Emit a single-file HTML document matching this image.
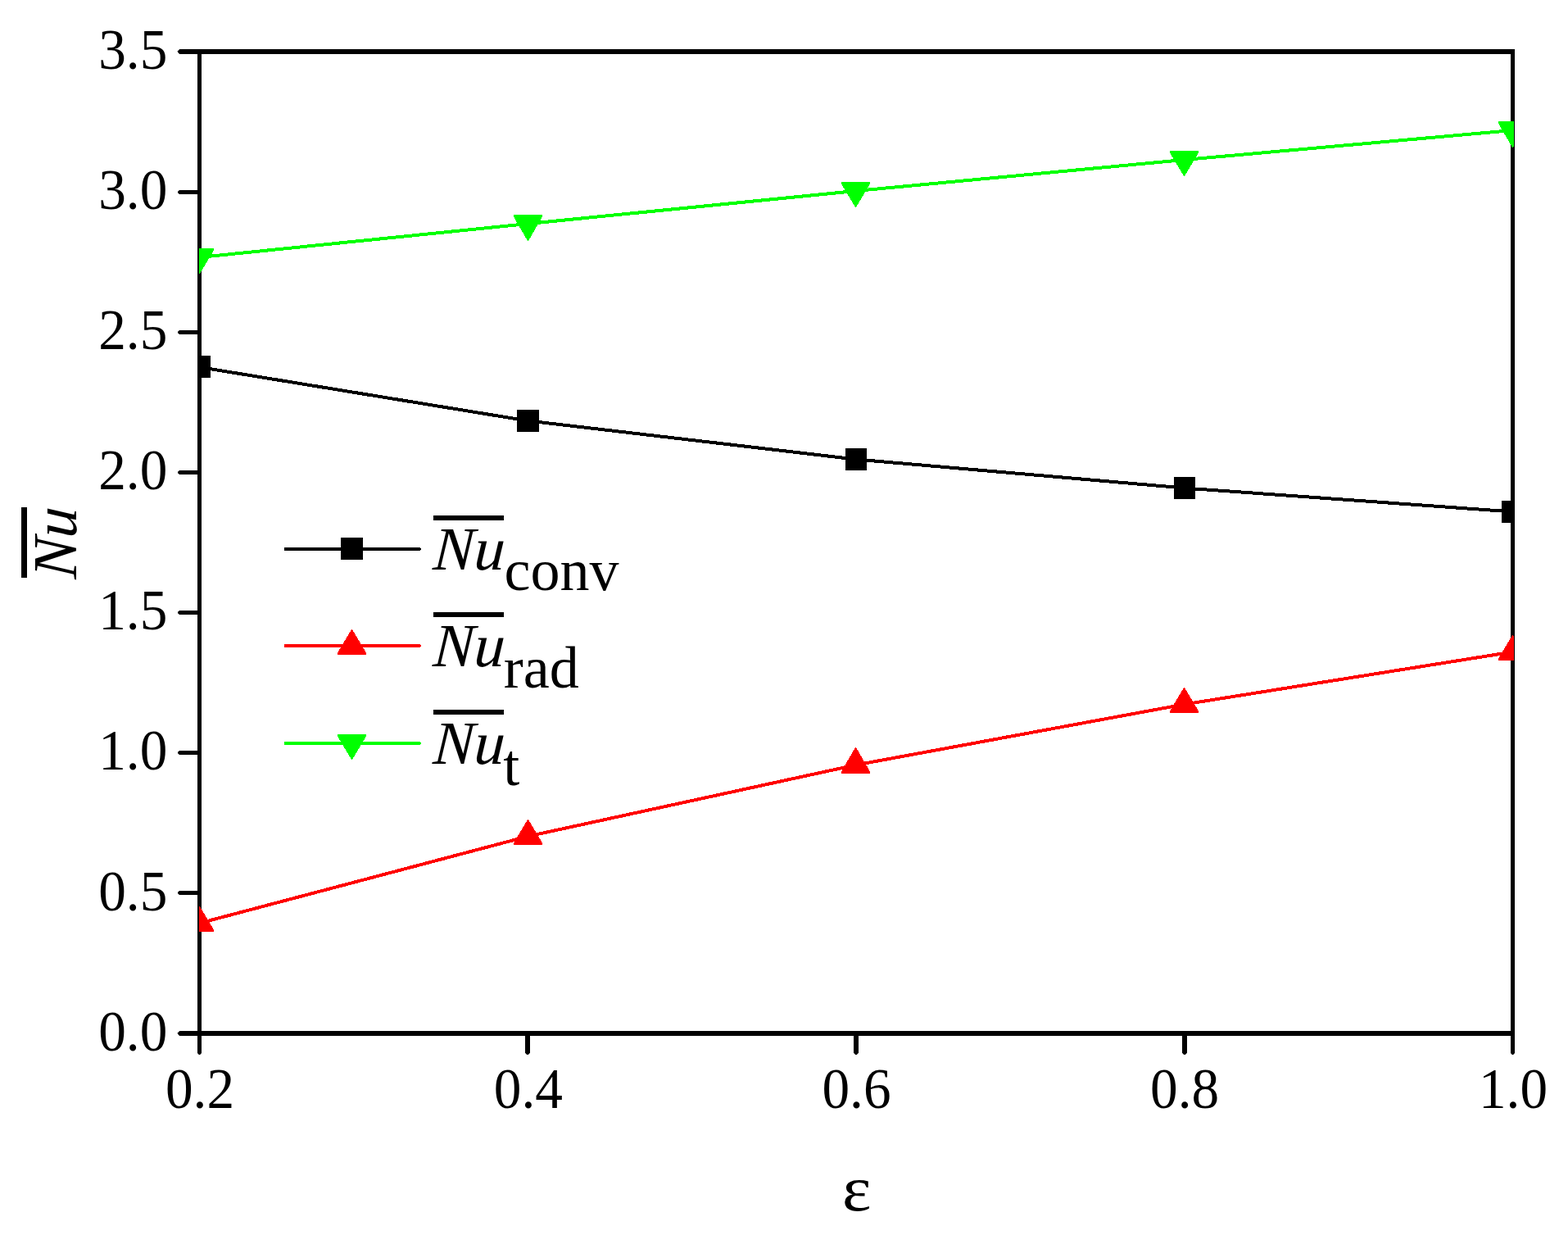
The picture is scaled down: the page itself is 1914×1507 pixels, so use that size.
<!DOCTYPE html>
<html lang="en"><head><meta charset="utf-8"><title>Average Nusselt number versus emissivity</title>
<style>
html,body{margin:0;padding:0;background:#fff;}
body{width:1914px;height:1507px;overflow:hidden;}
svg{display:block;}
text{font-family:"Liberation Serif","DejaVu Serif",serif;fill:#000;}
.tk{font-size:70.5px;}
.lb{font-size:75px;font-style:italic;}
.sb{font-size:72px;}
</style></head><body>
<svg width="1914" height="1507" viewBox="0 0 1914 1507">
<rect width="1914" height="1507" fill="#fff"/>
<defs><clipPath id="plot"><rect x="243" y="62" width="1605" height="1201"/></clipPath></defs>

<g fill="#000">
<path d="M219.2 60H1849V66H219.2L217 63.8V62.2Z"/>
<path d="M219.2 1258H1849V1264H219.2L217 1261.8V1260.2Z"/>
<path d="M241 60H246V1285L244.2 1287H242.8L241 1285Z"/>
<path d="M1844 60H1849V1285L1847.2 1287H1845.8L1844 1285Z"/>
<path d="M219 1087H241V1092H219L217 1090.2V1088.8Z"/>
<path d="M219 916H241V921H219L217 919.2V917.8Z"/>
<path d="M219 745H241V750H219L217 748.2V746.8Z"/>
<path d="M219 574H241V579H219L217 577.2V575.8Z"/>
<path d="M219 403H241V408H219L217 406.2V404.8Z"/>
<path d="M219 232H241V237H219L217 235.2V233.8Z"/>
<path d="M641 1264H647V1284.8L644.8 1287H643.2L641 1284.8Z"/>
<path d="M1042 1264H1048V1284.8L1045.8 1287H1044.2L1042 1284.8Z"/>
<path d="M1443 1264H1449V1284.8L1446.8 1287H1445.2L1443 1284.8Z"/>
</g>
<g clip-path="url(#plot)" shape-rendering="crispEdges">
<polyline points="243.5,448.0 644.5,513.5 1044.5,560.5 1445.5,595.5 1846.5,624.5" fill="none" stroke="#000" stroke-width="4"/>
<rect x="230" y="434" width="27" height="27" fill="#000"/>
<rect x="631" y="500" width="27" height="27" fill="#000"/>
<rect x="1032" y="547" width="26" height="27" fill="#000"/>
<rect x="1433" y="582" width="26" height="27" fill="#000"/>
<rect x="1833" y="611" width="27" height="27" fill="#000"/>
<polyline points="243.5,1126.5 644.5,1020.5 1044.5,933.5 1445.5,859.5 1846.5,795.5" fill="none" stroke="#f00" stroke-width="4"/>
<polygon points="226,1137 261,1137 261,1134.4 243.9,1106 243.1,1106 226,1134.4" fill="#f00"/>
<polygon points="627,1031 662,1031 662,1028.4 644.9,1000 644.1,1000 627,1028.4" fill="#f00"/>
<polygon points="1027,944 1062,944 1062,941.4 1044.9,912 1044.1,912 1027,941.4" fill="#f00"/>
<polygon points="1428,870 1463,870 1463,867.4 1445.9,839 1445.1,839 1428,867.4" fill="#f00"/>
<polygon points="1829,806 1864,806 1864,803.4 1846.9,775 1846.1,775 1829,803.4" fill="#f00"/>
<polyline points="243.5,314.0 644.5,273.0 1044.5,233.0 1445.5,195.0 1846.5,159.0" fill="none" stroke="#0f0" stroke-width="4"/>
<polygon points="226,303 261,303 261,305.6 243.9,334 243.1,334 226,305.6" fill="#0f0"/>
<polygon points="627,262 662,262 662,264.6 644.9,294 644.1,294 627,264.6" fill="#0f0"/>
<polygon points="1027,222 1062,222 1062,224.6 1044.9,253 1044.1,253 1027,224.6" fill="#0f0"/>
<polygon points="1428,184 1463,184 1463,186.6 1445.9,215 1445.1,215 1428,186.6" fill="#0f0"/>
<polygon points="1829,148 1864,148 1864,150.6 1846.9,180 1846.1,180 1829,150.6" fill="#0f0"/>
</g>
<g class="tk">
<text transform="translate(204.3,1281.6) scale(0.955,1)" text-anchor="end">0.0</text>
<text transform="translate(204.3,1110.5) scale(0.955,1)" text-anchor="end">0.5</text>
<text transform="translate(204.3,939.3) scale(0.955,1)" text-anchor="end">1.0</text>
<text transform="translate(204.3,768.2) scale(0.955,1)" text-anchor="end">1.5</text>
<text transform="translate(204.3,597.0) scale(0.955,1)" text-anchor="end">2.0</text>
<text transform="translate(204.3,425.9) scale(0.955,1)" text-anchor="end">2.5</text>
<text transform="translate(204.3,254.7) scale(0.955,1)" text-anchor="end">3.0</text>
<text transform="translate(204.3,83.6) scale(0.955,1)" text-anchor="end">3.5</text>
<text transform="translate(244.0,1352.4) scale(0.955,1)" text-anchor="middle">0.2</text>
<text transform="translate(644.8,1352.4) scale(0.955,1)" text-anchor="middle">0.4</text>
<text transform="translate(1045.5,1352.4) scale(0.955,1)" text-anchor="middle">0.6</text>
<text transform="translate(1446.2,1352.4) scale(0.955,1)" text-anchor="middle">0.8</text>
<text transform="translate(1847.0,1352.4) scale(0.955,1)" text-anchor="middle">1.0</text>
</g>
<text transform="translate(1045.8,1476.6) scale(1.085,1)" text-anchor="middle" style="font-size:77.7px">ε</text>
<g transform="translate(92.5,707) rotate(-90)"><text class="lb" style="font-size:76.5px" transform="scale(0.975,1) skewX(-3.5)">Nu</text><rect x="2" y="-66.5" width="86" height="7"/></g>
<g shape-rendering="crispEdges">
<path d="M347.6 668H512.6L514.2 670L512.6 672H347.6L346.2 670Z" fill="#000"/><rect x="416" y="656" width="27" height="27" fill="#000"/>
<path d="M347.6 786H512.6L514.2 788L512.6 790H347.6L346.2 788Z" fill="#f00"/><polygon points="412,799 447,799 447,796.4 429.9,768 429.1,768 412,796.4" fill="#f00"/>
<path d="M347.6 905H512.6L514.2 907L512.6 909H347.6L346.2 907Z" fill="#0f0"/><polygon points="412,896 447,896 447,898.6 429.9,927 429.1,927 412,898.6" fill="#0f0"/>
</g>
<rect x="529" y="629" width="86" height="6"/>
<text class="lb" transform="translate(527.8,695) skewX(-3.5)">Nu</text>
<text class="sb" x="615.5" y="720.3">conv</text>
<rect x="529" y="747" width="86" height="6"/>
<text class="lb" transform="translate(527.8,813) skewX(-3.5)">Nu</text>
<text class="sb" x="614.8" y="839.1">rad</text>
<rect x="529" y="866" width="86" height="6"/>
<text class="lb" transform="translate(527.8,932) skewX(-3.5)">Nu</text>
<text class="sb" x="614.3" y="957.6">t</text>
</svg></body></html>
